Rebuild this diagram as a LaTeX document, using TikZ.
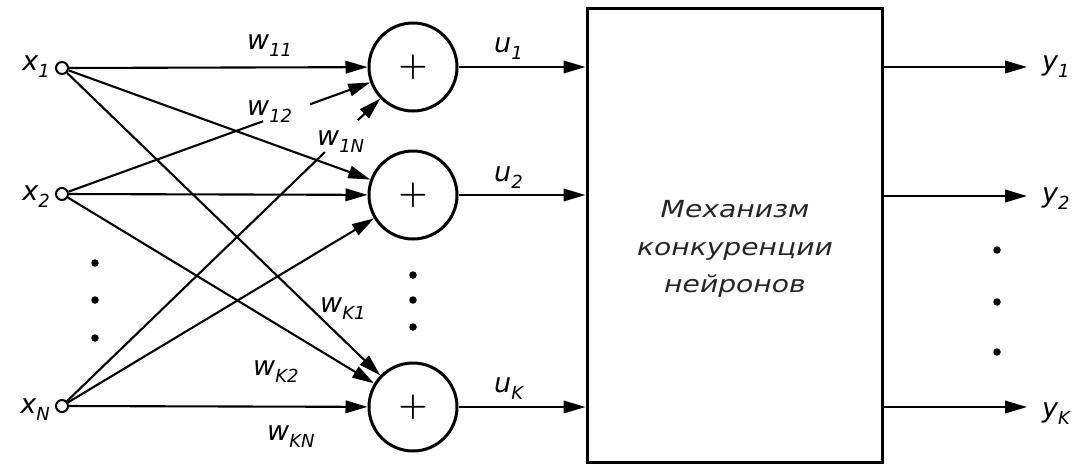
\documentclass[tikz,border=0pt]{standalone}
\usepackage{fontspec}
\usetikzlibrary{arrows.meta,calc}
\newfontfamily\djv{DejaVu Sans}
\newfontfamily\djvwide[FakeStretch=1.2]{DejaVu Sans}
% letter with a lowered index
\newcommand\sublbl[2]{#1\raisebox{-7pt}{\fontsize{18}{18}\selectfont #2}}

\tikzset{
  wire/.style={line width=2.1pt},
  conn/.style={wire, -{Triangle[length=22pt,width=12.5pt]}},
  inp/.style={circle, draw, line width=2pt, fill=white, minimum size=12pt, inner sep=0pt},
  neuron/.style={circle, draw, line width=3pt, minimum size=88pt, inner sep=0pt,
                 font=\rmfamily\bfseries\fontsize{33}{33}\selectfont},
  lab/.style={font=\djv\itshape\fontsize{27}{30}\selectfont, inner sep=0pt},
  dot/.style={circle, fill, inner sep=0pt, minimum size=7.5pt},
}

\begin{document}
\begin{tikzpicture}[x=1pt,y=-1pt]
\useasboundingbox (0,0) rectangle (1087,466);

% inputs
\node[inp] (x1) at (62,68) {};
\node[inp] (x2) at (62,194) {};
\node[inp] (xN) at (62,406) {};
\node[lab, anchor=base east] (lx1) at (50,70) {\sublbl{x}{1}};
\node[lab, anchor=base east] (lx2) at (50,200) {\sublbl{x}{2}};
\node[lab, anchor=base east] (lxN) at (50,413) {\sublbl{x}{N}};

% summing neurons
\node[neuron] (n1) at (413,67) {+};
\node[neuron] (n2) at (413,195) {+};
\node[neuron] (nK) at (413,407) {+};

% competition block
\node[draw, line width=3pt, minimum width=295pt, minimum height=454pt, inner sep=0pt]
  (box) at (734.5,235) {};
\node[align=center, inner sep=0pt, text=black!85,
      font=\djvwide\itshape\fontsize{23.5}{37.5}\selectfont] (mech) at (735,249)
  {Механизм\\конкуренции\\нейронов};

% weighted connections
\draw[conn] (x1) -- (n1);
\draw[conn] (x1) -- (n2);
\draw[conn] (x1) -- (nK);
\draw[wire] (x2) -- ($(x2)!0.573!(n1)$);
\draw[conn] ($(x2)!0.707!(n1)$) -- (n1);
\draw[conn] (x2) -- (n2);
\draw[conn] (x2) -- (nK);
\draw[wire] (xN) -- ($(xN)!0.749!(n1)$);
\draw[conn] ($(xN)!0.843!(n1)$) -- (n1);
\draw[conn] (xN) -- (n2);
\draw[conn] (xN) -- (nK);

% weight labels
\node[lab, anchor=base west] (w11) at (247,49) {\sublbl{w}{11}};
\node[lab, anchor=base west] (w12) at (247,115) {\sublbl{w}{12}};
\node[lab, anchor=base west] (w1N) at (317,145) {\sublbl{w}{1N}};
\node[lab, anchor=base west] (wK1) at (320,312) {\sublbl{w}{K1}};
\node[lab, anchor=base west] (wK2) at (253,375) {\sublbl{w}{K2}};
\node[lab, anchor=base west] (wKN) at (267,440) {\sublbl{w}{KN}};

% neuron outputs
\draw[conn] (n1) -- (box.west |- n1);
\draw[conn] (n2) -- (box.west |- n2);
\draw[conn] (nK) -- (box.west |- nK);
\node[lab, anchor=base west] (u1) at (494,52) {\sublbl{u}{1}};
\node[lab, anchor=base west] (u2) at (494,181) {\sublbl{u}{2}};
\node[lab, anchor=base west] (uK) at (494,392) {\sublbl{u}{K}};

% block outputs
\coordinate (o1) at (1027,67);
\coordinate (o2) at (1027,196);
\coordinate (oK) at (1027,407);
\draw[conn] (box.east |- o1) -- (o1);
\draw[conn] (box.east |- o2) -- (o2);
\draw[conn] (box.east |- oK) -- (oK);
\node[lab, anchor=base west] (y1) at (1042,70) {\sublbl{y}{1}};
\node[lab, anchor=base west] (y2) at (1042,202) {\sublbl{y}{2}};
\node[lab, anchor=base west] (yK) at (1042,417) {\sublbl{y}{K}};

% ellipsis dots
\node[dot] (dl1) at (95,263) {};
\node[dot] (dl2) at (95,300) {};
\node[dot] (dl3) at (95,338) {};
\node[dot] (dm1) at (413,275) {};
\node[dot] (dm2) at (413,300) {};
\node[dot] (dm3) at (413,327) {};
\node[dot] (dr1) at (997,250) {};
\node[dot] (dr2) at (997,302) {};
\node[dot] (dr3) at (997,352) {};
\end{tikzpicture}
\end{document}
